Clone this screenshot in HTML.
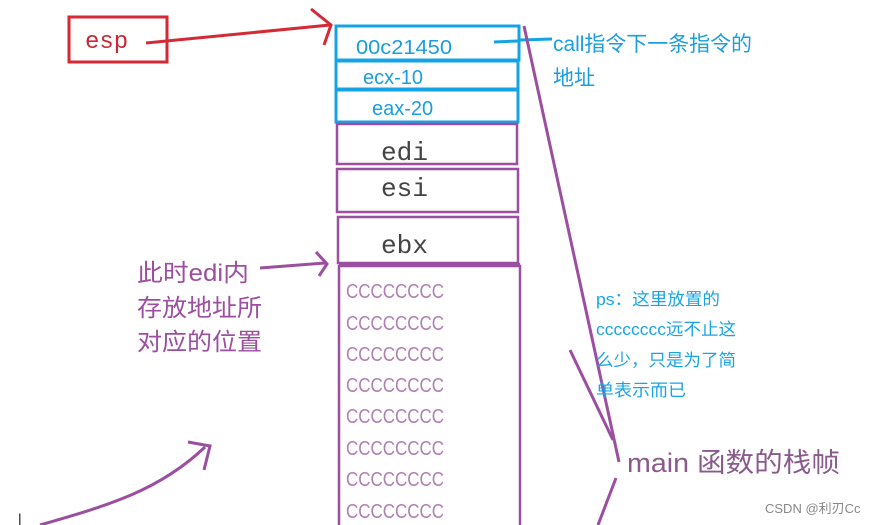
<!DOCTYPE html>
<html><head><meta charset="utf-8"><style>
html,body{margin:0;padding:0;background:#fff;}
svg{display:block;}
text{font-family:"Liberation Sans","Noto Sans CJK SC",sans-serif;}
.m, .m text{font-family:"Liberation Mono",monospace;}
</style></head><body>
<svg width="875" height="525" viewBox="0 0 875 525" xmlns="http://www.w3.org/2000/svg">
<rect x="0" y="0" width="875" height="525" fill="#fff"/>
<rect x="69" y="17" width="98" height="45" fill="none" stroke="#d42a36" stroke-width="3"/>
<text x="85" y="48" font-size="24" fill="#c8283a" class="m">esp</text>
<path d="M146,43 L330,25" stroke="#d42a36" stroke-width="3" fill="none"/>
<path d="M311,9 L331,25 L324,45" stroke="#d42a36" stroke-width="3" fill="none"/>
<g fill="none" stroke="#14a3e4" stroke-width="3">
<rect x="336" y="26" width="183" height="34"/>
<rect x="336" y="61" width="182" height="28"/>
<rect x="336" y="90" width="182" height="32"/>
</g>
<g fill="#1a9ee0" font-size="20">
<text x="356" y="54" textLength="96" lengthAdjust="spacingAndGlyphs">00c21450</text>
<text x="363" y="84">ecx-10</text>
<text x="372" y="115">eax-20</text>
</g>
<path d="M494,42 L518,41 M520,40 L552,39" stroke="#14a3e4" stroke-width="3"/>
<g fill="#1a9ee0" font-size="21">
<text x="553" y="51" textLength="199" lengthAdjust="spacingAndGlyphs">call指令下一条指令的</text>
<text x="553" y="85">地址</text>
</g>
<g fill="none" stroke="#9c4ea0" stroke-width="2.5">
<rect x="337" y="124" width="180" height="40"/>
<rect x="337" y="169" width="181" height="43"/>
<rect x="338" y="217" width="180" height="46"/>
<path d="M339,525 L339,266 L520,266 L520,525"/>
</g>
<path d="M339,265 L520,265" stroke="#9c4ea0" stroke-width="4"/>
<g fill="#444" font-size="26" class="m">
<text x="381" y="160" textLength="47" lengthAdjust="spacingAndGlyphs">edi</text>
<text x="381" y="196" textLength="47" lengthAdjust="spacingAndGlyphs">esi</text>
<text x="381" y="253" textLength="47" lengthAdjust="spacingAndGlyphs">ebx</text>
</g>
<g fill="#b080b2" font-size="20">
<text x="346" y="298" textLength="98" lengthAdjust="spacingAndGlyphs">CCCCCCCC</text>
<text x="346" y="330" textLength="98" lengthAdjust="spacingAndGlyphs">CCCCCCCC</text>
<text x="346" y="361" textLength="98" lengthAdjust="spacingAndGlyphs">CCCCCCCC</text>
<text x="346" y="392" textLength="98" lengthAdjust="spacingAndGlyphs">CCCCCCCC</text>
<text x="346" y="423" textLength="98" lengthAdjust="spacingAndGlyphs">CCCCCCCC</text>
<text x="346" y="455" textLength="98" lengthAdjust="spacingAndGlyphs">CCCCCCCC</text>
<text x="346" y="486" textLength="98" lengthAdjust="spacingAndGlyphs">CCCCCCCC</text>
<text x="346" y="518" textLength="98" lengthAdjust="spacingAndGlyphs">CCCCCCCC</text>
</g>
<g stroke="#9c4ea0" stroke-width="3" fill="none">
<path d="M524,26 L619,462"/>
<path d="M570,350 L613,440"/>
<path d="M616,478 L598,525"/>
</g>
<text x="627" y="472" font-size="27" fill="#8a5a8c" textLength="213" lengthAdjust="spacingAndGlyphs">main 函数的栈帧</text>
<g fill="#1aa4e6" font-size="17">
<text x="596" y="305" textLength="124" lengthAdjust="spacingAndGlyphs">ps：这里放置的</text>
<text x="596" y="335" textLength="140" lengthAdjust="spacingAndGlyphs">cccccccc远不止这</text>
<text x="596" y="366" textLength="140" lengthAdjust="spacingAndGlyphs">么少，只是为了简</text>
<text x="596" y="396" textLength="90" lengthAdjust="spacingAndGlyphs">单表示而已</text>
</g>
<g fill="#9c4ea0" font-size="24">
<text x="137" y="281" textLength="112" lengthAdjust="spacingAndGlyphs">此时edi内</text>
<text x="137" y="316" textLength="125" lengthAdjust="spacingAndGlyphs">存放地址所</text>
<text x="137" y="350" textLength="125" lengthAdjust="spacingAndGlyphs">对应的位置</text>
</g>
<path d="M260,268 L325,263" stroke="#9c4ea0" stroke-width="3" fill="none"/>
<path d="M316,252 L327,264 L319,276" stroke="#9c4ea0" stroke-width="3" fill="none"/>
<path d="M40,525 C110,505 160,490 205,447" stroke="#9c4ea0" stroke-width="3" fill="none"/>
<path d="M188,442 L210,446 L204,470" stroke="#9c4ea0" stroke-width="3" fill="none"/>
<text x="18" y="525" font-size="16" fill="#444">l</text>
<text x="765" y="513" font-size="13" fill="#888">CSDN @利刃Cc</text>
</svg>
</body></html>
